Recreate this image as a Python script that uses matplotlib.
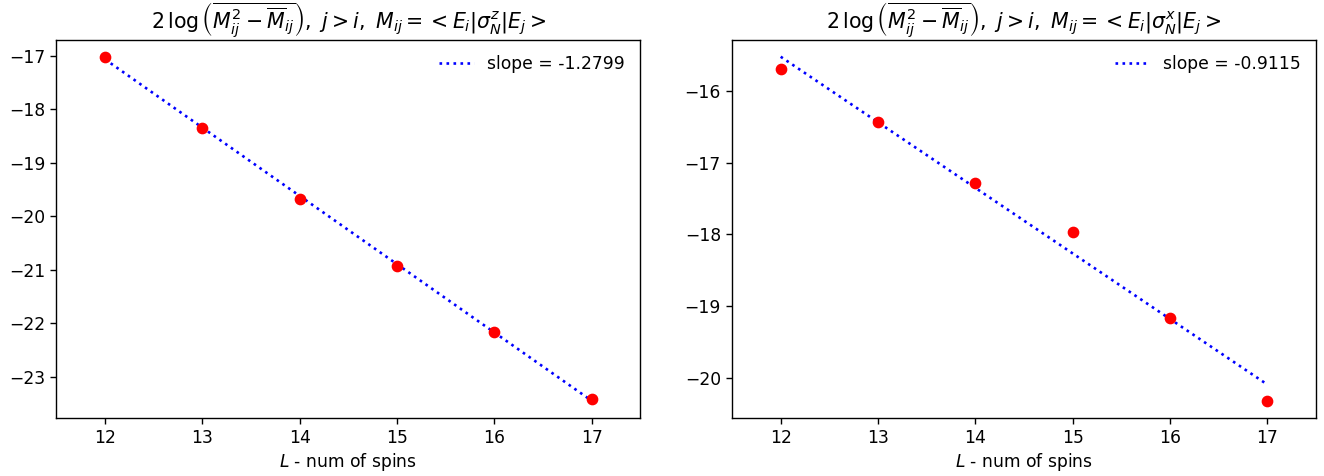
import numpy as np
import matplotlib
matplotlib.use("Agg")
import matplotlib.pyplot as plt

spins = [12, 13, 14, 15, 16, 17]
var_sz = [-17.02, -18.345, -19.68, -20.93, -22.17, -23.41]
var_sx = [-15.69, -16.43, -17.29, -17.96, -19.16, -20.32]
slope_labels = ["slope = -1.2799", "slope = -0.9115"]

titles = [
    r"$2\,\log\left(\overline{M_{ij}^2 - \overline{M}_{ij}}\right),\ j>i,\ M_{ij} = <E_i|\sigma_N^z|E_j>$",
    r"$2\,\log\left(\overline{M_{ij}^2 - \overline{M}_{ij}}\right),\ j>i,\ M_{ij} = <E_i|\sigma_N^x|E_j>$",
]

fig, axes = plt.subplots(1, 2, figsize=(13.24, 4.76), dpi=100)
fig.subplots_adjust(left=0.0425, right=0.994, top=0.917, bottom=0.122, wspace=0.157)

for ax, vals, lab, title in zip(axes, [var_sz, var_sx], slope_labels, titles):
    x = np.array(spins)
    y = np.array(vals)
    k, b = np.polyfit(x, y, 1)
    ax.plot(x, k * x + b, ":", color="blue", lw=1.9, label=lab)
    ax.scatter(x, y, color="red", zorder=3, s=55)
    ax.set_xlim(11.5, 17.5)
    ax.set_title(title, fontsize=14.8)
    ax.set_xlabel(r"$L$ - num of spins", fontsize=12.3, labelpad=3)
    ax.legend(frameon=False, fontsize=12.3, loc="upper right")
    ax.tick_params(labelsize=12.3, width=1.0, length=4.5)
    for s in ax.spines.values():
        s.set_linewidth(1.0)

fig.savefig("out.png")
